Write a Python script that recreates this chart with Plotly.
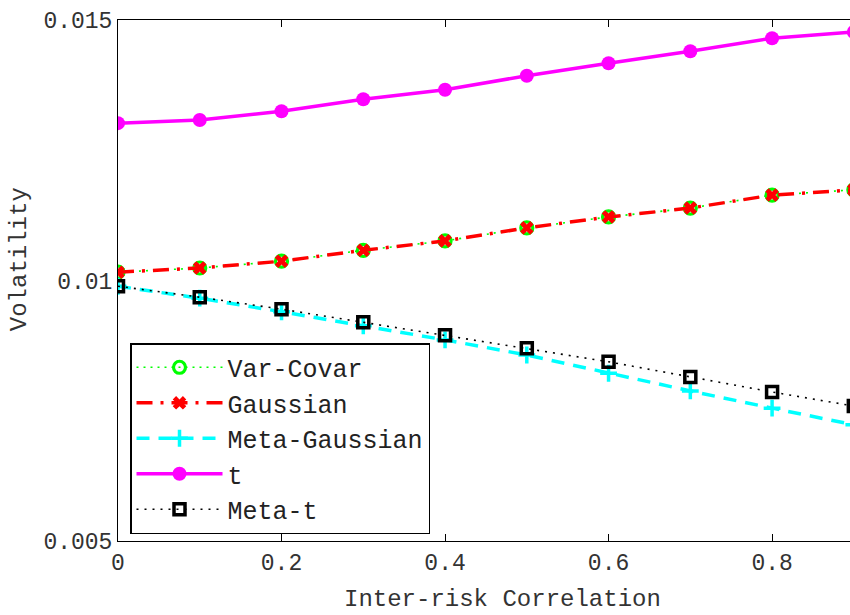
import plotly.graph_objects as go

# Inter-risk correlation levels
correlation = [0.0, 0.1, 0.2, 0.3, 0.4, 0.5, 0.6, 0.7, 0.8, 0.9]

# Aggregated volatility under each dependence model
var_covar = [0.01016, 0.01024, 0.01037, 0.01058, 0.01076, 0.01101, 0.01122, 0.01139, 0.01164, 0.01174]
gaussian = [0.01016, 0.01024, 0.01037, 0.01058, 0.01076, 0.01101, 0.01122, 0.01139, 0.01164, 0.01174]
meta_gaussian = [0.00989, 0.00966, 0.00940, 0.00913, 0.00886, 0.00857, 0.00822, 0.00788, 0.00755, 0.00723]
t_dist = [0.01302, 0.01308, 0.01325, 0.01348, 0.01366, 0.01393, 0.01417, 0.01440, 0.01465, 0.01477]
meta_t = [0.00989, 0.00968, 0.00945, 0.00920, 0.00895, 0.00870, 0.00844, 0.00815, 0.00786, 0.00759]

x_ticks = [0, 0.2, 0.4, 0.6, 0.8]
x_tick_labels = ["0", "0.2", "0.4", "0.6", "0.8"]
y_ticks = [0.005, 0.01, 0.015]
y_tick_labels = ["0.005", "0.01", "0.015"]

FONT = "Liberation Mono, Courier New, monospace"
TEXT = "#333333"

series = [
    dict(name="Var-Covar", y=var_covar, color="#00ff00", dash="2px,5px", width=1.6,
         symbol="circle-open", size=12, mlw=3.2),
    dict(name="Gaussian", y=gaussian, color="#ff0000", dash="16px,8px,3px,8px", width=3.5,
         symbol="x", size=12, mlw=0),
    dict(name="Meta-Gaussian", y=meta_gaussian, color="#00ffff", dash="13px,9px", width=3.5,
         symbol="cross-thin-open", size=12, mlw=3.5),
    dict(name="t", y=t_dist, color="#ff00ff", dash="solid", width=3.5,
         symbol="circle", size=14, mlw=0),
    dict(name="Meta-t", y=meta_t, color="#000000", dash="2px,6px", width=1.6,
         symbol="square-open", size=11, mlw=3.5),
]

fig = go.Figure()
for s in series:
    fig.add_trace(go.Scatter(
        x=correlation, y=s["y"], name=s["name"], mode="lines+markers",
        line=dict(color=s["color"], dash=s["dash"], width=s["width"]),
        marker=dict(symbol=s["symbol"], size=s["size"], color=s["color"],
                    line=dict(color=s["color"], width=s["mlw"])),
    ))

axis_common = dict(
    showgrid=False, zeroline=False, showline=True, linecolor="black", linewidth=1,
    ticks="inside", ticklen=7, tickcolor="black",
    tickfont=dict(family=FONT, size=23, color=TEXT),
)

fig.update_layout(
    width=850, height=615,
    margin=dict(l=118, r=0, t=20, b=74, pad=0),
    paper_bgcolor="white", plot_bgcolor="white",
    font=dict(family=FONT, size=23, color=TEXT),
    xaxis=dict(range=[0, 0.8953], tickvals=x_ticks, ticktext=x_tick_labels,
               mirror="ticks", **axis_common),
    yaxis=dict(range=[0.005, 0.015], tickvals=y_ticks, ticktext=y_tick_labels,
               **axis_common),
    showlegend=True,
    legend=dict(
        x=0.0164, y=0.38, xanchor="left", yanchor="top",
        bgcolor="white", bordercolor="black", borderwidth=1.5,
        font=dict(family=FONT, size=25, color="#222222"),
        itemwidth=86,
    ),
    annotations=[
        dict(text="Inter-risk Correlation", xref="x", yref="paper", x=0.47, y=-0.112,
             xanchor="center", yanchor="middle", showarrow=False,
             font=dict(family=FONT, size=24, color=TEXT)),
        dict(text="Volatility", xref="paper", yref="y", x=-0.1345, y=0.0104,
             xanchor="center", yanchor="middle", textangle=-90, showarrow=False,
             font=dict(family=FONT, size=24, color=TEXT)),
    ],
)

fig.write_html("out.html")
